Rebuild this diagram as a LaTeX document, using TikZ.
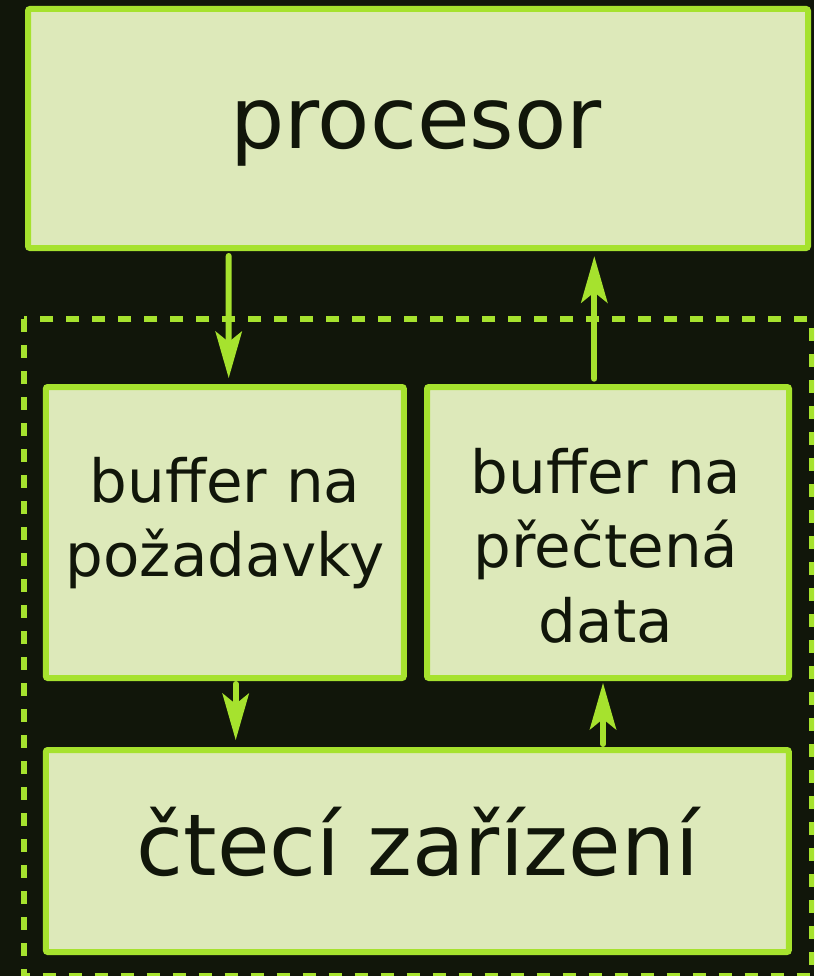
\documentclass[tikz,border=0pt]{standalone}
\usepackage{fontspec}
\setmainfont{DejaVu Sans}
\usetikzlibrary{arrows.meta}
\definecolor{bgdark}{HTML}{11160A}
\definecolor{boxfill}{HTML}{DDE9BA}
\definecolor{lime}{HTML}{A6E22E}
\definecolor{ink}{HTML}{11160A}
\tikzset{
  box/.style={draw=lime, fill=boxfill, line width=6pt, rounded corners=2pt,
    inner sep=0pt, rectangle},
  group/.style={draw=lime, line width=6pt, dash pattern=on 13pt off 13pt},
  flow/.style={draw=lime, line width=6pt, line cap=round,
    -{Stealth[length=47pt, width=27pt, inset=11pt, line width=0pt]}},
  biglabel/.style={text=ink, anchor=base, inner sep=0pt,
    font=\fontsize{85.5}{100}\selectfont},
  smalllabel/.style={text=ink, anchor=base, inner sep=0pt,
    font=\fontsize{59.5}{75}\selectfont},
}
\begin{document}
\begin{tikzpicture}[x=1pt, y=-1pt]
  % canvas
  \fill[bgdark] (0,0) rectangle (814,976);
  \useasboundingbox (0,0) rectangle (814,976);

  % device group (dashed frame, partly off the canvas)
  \begin{scope}
    \clip (0,0) rectangle (814,976);
    \draw[group] (23.7,319) rectangle (811.5,976);
  \end{scope}

  % boxes
  \node[box, minimum width=780pt, minimum height=239pt] (proc) at (418,128.5) {};
  \node[box, minimum width=358pt, minimum height=291pt] (bufL) at (224.85,532.5) {};
  \node[box, minimum width=362pt, minimum height=291pt] (bufR) at (608,532.5) {};
  \node[box, minimum width=743pt, minimum height=202pt] (reader) at (417.35,851) {};

  % labels
  \node[biglabel] (procT) at (416,149) {procesor};
  \node[smalllabel] (bufLa) at (225,502) {buffer na};
  \node[smalllabel] (bufLb) at (225,576) {požadavky};
  \node[smalllabel] (bufRa) at (606,493) {buffer na};
  \node[smalllabel] (bufRb) at (606,567) {přečtená};
  \node[smalllabel] (bufRc) at (606,642) {data};
  \node[biglabel] (readerT) at (418,875) {čtecí zařízení};

  % data flow
  \draw[flow, shorten <=5pt, shorten >=6pt]
    ([xshift=-189.3pt]proc.south) -- ([xshift=3.85pt]bufL.north);
  \draw[flow, shorten <=5.3pt, shorten >=5.3pt]
    ([xshift=-13.7pt]bufR.north) -- ([xshift=176.3pt]proc.south);
  \draw[flow, shorten <=3pt, shorten >=7pt]
    ([xshift=10.85pt]bufL.south) -- ([xshift=-181.65pt]reader.north);
  \draw[flow, shorten <=3pt, shorten >=2pt]
    ([xshift=185.65pt]reader.north) -- ([xshift=-5pt]bufR.south);
\end{tikzpicture}
\end{document}
